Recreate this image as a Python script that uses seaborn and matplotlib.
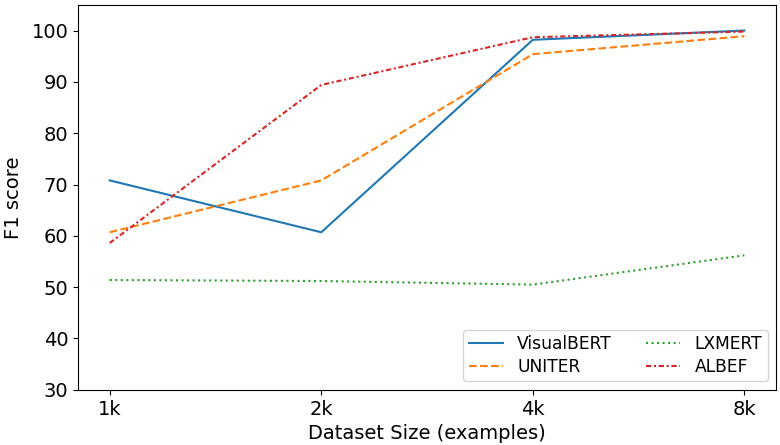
import matplotlib
matplotlib.use("Agg")
import matplotlib.pyplot as plt
import seaborn as sns
import pandas as pd

# dati
dimensioni = ["1k", "2k", "4k", "8k"]
visualbert = [70.8, 60.7, 98.2, 100.0]
uniter = [60.7, 70.8, 95.4, 98.9]
lxmert = [51.4, 51.2, 50.5, 56.2]
albef = [58.6, 89.4, 98.7, 99.8]

modelli = ["VisualBERT", "UNITER", "LXMERT", "ALBEF"]
valori = [visualbert, uniter, lxmert, albef]
stili = ["-", "--", ":", (0, (2.5, 1.3, 1, 1.3))]
colori = ["#1f77b4", "#ff7f0e", "#2ca02c", "#d62728"]

righe = []
for nome, serie in zip(modelli, valori):
    for i, v in enumerate(serie):
        righe.append({"pos": i, "modello": nome, "f1": v})
df = pd.DataFrame(righe)

fig, ax = plt.subplots(figsize=(7.8, 4.45), dpi=100)

for nome, stile, colore in zip(modelli, stili, colori):
    sub = df[df["modello"] == nome]
    sns.lineplot(data=sub, x="pos", y="f1", ax=ax, color=colore,
                 linestyle=stile, linewidth=1.5, label=nome)

ax.set_xticks(range(len(dimensioni)))
ax.set_xticklabels(dimensioni)
ax.set_ylim(30, 105)
ax.set_yticks(range(30, 101, 10))
ax.tick_params(labelsize=14)
ax.set_xlabel("Dataset Size (examples)", fontsize=14)
ax.set_ylabel("F1 score", fontsize=14, labelpad=6)
ax.legend(loc="lower right", ncol=2, fontsize=12.3, labelspacing=0.3,
          borderpad=0.3, handletextpad=0.85)

plt.subplots_adjust(left=0.1, right=0.995, top=0.989, bottom=0.124)
fig.savefig("out.png", dpi=100)
